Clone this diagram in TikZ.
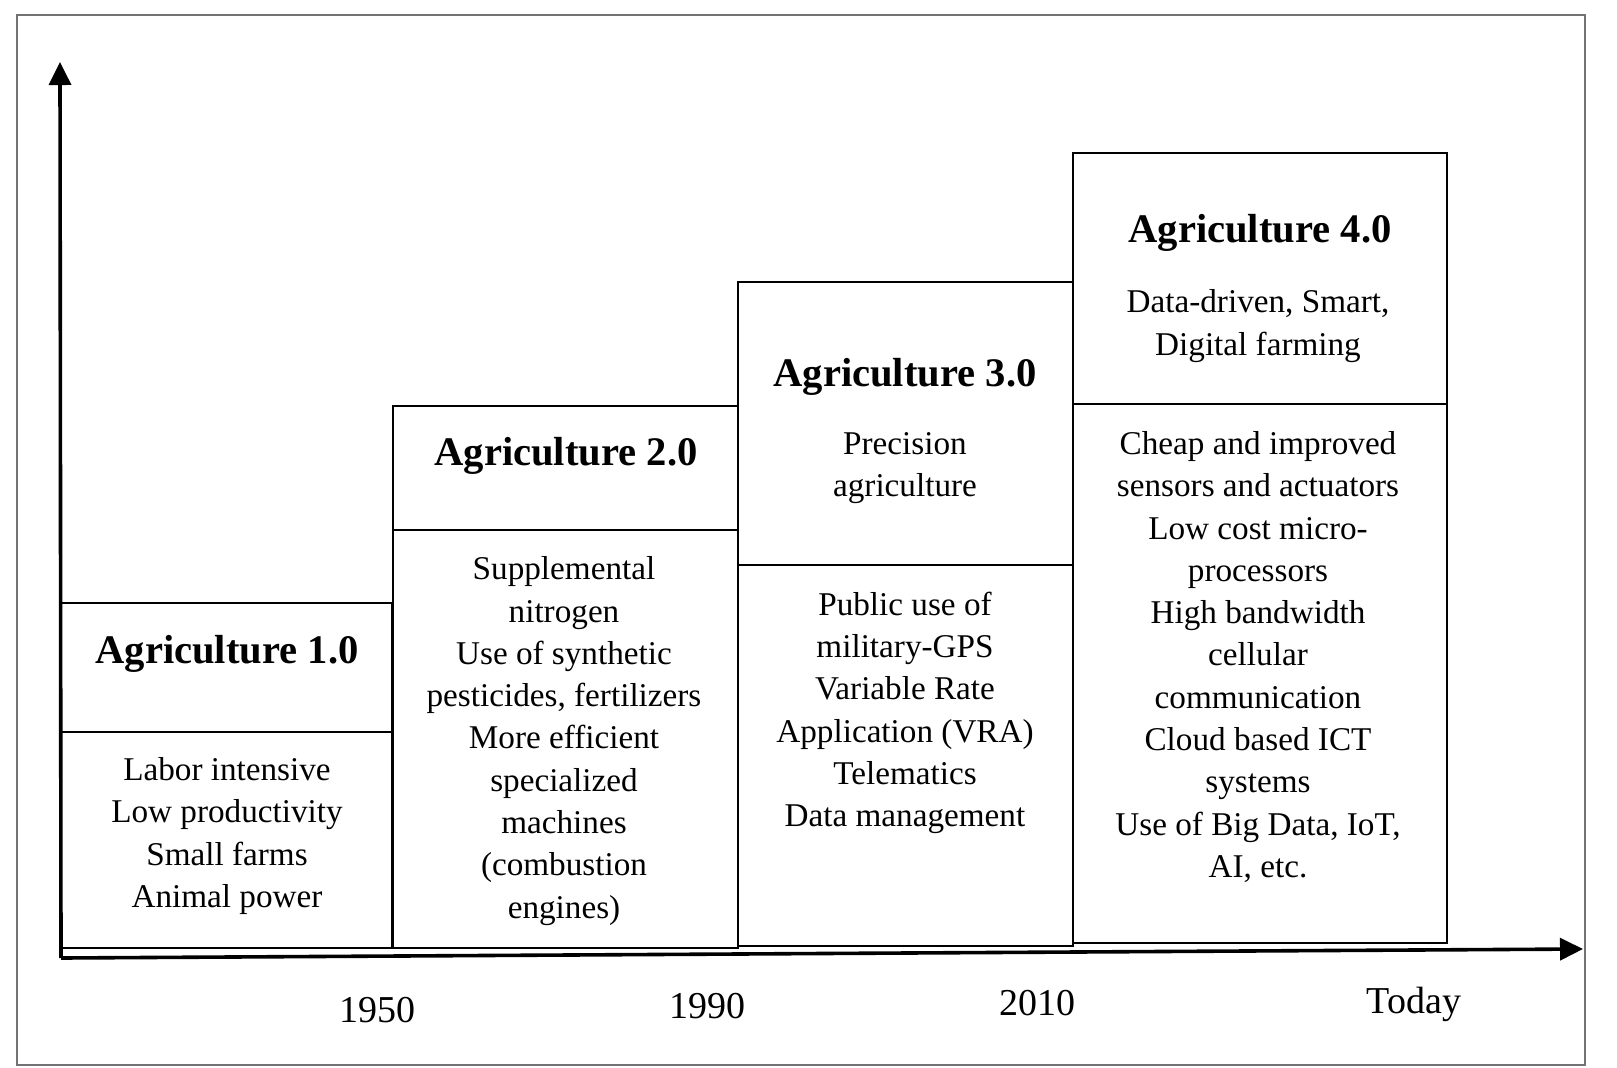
\documentclass[tikz,border=0pt]{standalone}
\usepackage{fontspec}
\setmainfont{Liberation Serif}
\usetikzlibrary{arrows.meta}

\begin{document}
\begin{tikzpicture}[
  x=0.5pt,
  y=-0.5pt,
  inner sep=0pt,
  outer sep=0pt,
  every node/.append style={align=center},
  era/.style={font=\fontsize{20.3}{24}\selectfont\bfseries},
  note/.style={font=\fontsize{16.6}{21.15}\selectfont},
  year/.style={font=\fontsize{19}{23}\selectfont},
  frame/.style={draw=black!55, line width=1pt},
  boxline/.style={line width=1.4pt},
  divline/.style={line width=0.9pt},
  axis/.style={line width=1.8pt, -{Triangle[length=11.5pt,width=11pt]}},
]
  \useasboundingbox (0,0) rectangle (1617,1067);
  \draw[frame] (17,15) rectangle (1585,1065);

  % one box per era: left/top/divider/right/bottom
  \foreach \l/\t/\d/\r/\b in {
    61/603/732/392/948,
    393/406/530/738/948,
    738/282/565/1073/946,
    1073/153/404/1447/943%
  } {
    \draw[boxline] (\l,\t) rectangle (\r,\b);
    \draw[divline] (\l,\d) -- (\r,\d);
  }

  % axes
  \coordinate (origin) at (61,958);
  \coordinate (ytip) at (60,62);
  \coordinate (xtip) at (1583,949);
  \draw[axis] (origin) -- (ytip);
  \draw[axis] (origin) -- (xtip);

  \node[era] (t1) at (227,654) {Agriculture 1.0};
  \node[era] (t2) at (566,456) {Agriculture 2.0};
  \node[era] (t3) at (905,377) {Agriculture 3.0};
  \node[era] (t4) at (1260,233) {Agriculture 4.0};

  \node[note] (s3) at (905,468) {Precision\\agriculture};
  \node[note] (s4) at (1258,326) {Data-driven, Smart,\\Digital farming};

  \node[note] (b1) at (227,836)
    {Labor intensive\\Low productivity\\Small farms\\Animal power};
  \node[note] (b2) at (564,741)
    {Supplemental\\nitrogen\\Use of synthetic\\pesticides, fertilizers\\
     More efficient\\specialized\\machines\\(combustion\\engines)};
  \node[note] (b3) at (905,713)
    {Public use of\\military-GPS\\Variable Rate\\Application (VRA)\\
     Telematics\\Data management};
  \node[note] (b4) at (1258,657)
    {Cheap and improved\\sensors and actuators\\Low cost micro-\\processors\\
     High bandwidth\\cellular\\communication\\Cloud based ICT\\systems\\
     Use of Big Data, IoT,\\AI, etc.};

  \node[year] (y1950) at (377,1010) {1950};
  \node[year] (y1990) at (707,1006) {1990};
  \node[year] (y2010) at (1037,1003) {2010};
  \node[year] (today) at (1414,1004) {Today};
\end{tikzpicture}
\end{document}
